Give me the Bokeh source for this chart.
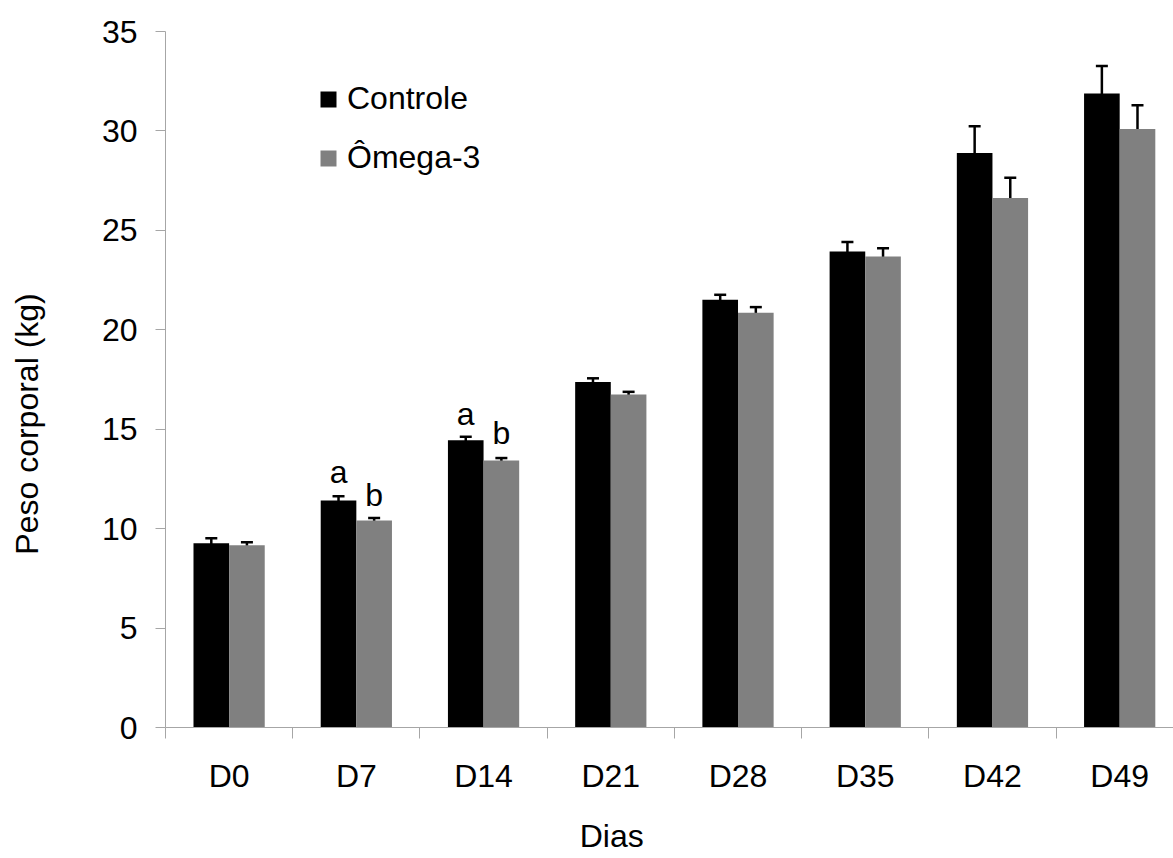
import numpy as np
from bokeh.plotting import figure
from bokeh.models import (ColumnDataSource, Range1d, FixedTicker, Whisker, TeeHead,
                          Legend, LegendItem)
from bokeh.core.properties import value
from bokeh.embed import file_html
from bokeh.resources import INLINE

# ---- data ----
categories = ["D0", "D7", "D14", "D21", "D28", "D35", "D42", "D49"]
controle = [9.27, 11.42, 14.44, 17.37, 21.51, 23.94, 28.89, 31.88]
controle_err = [0.25, 0.21, 0.18, 0.19, 0.25, 0.47, 1.34, 1.38]
omega3 = [9.17, 10.41, 13.43, 16.74, 20.86, 23.68, 26.63, 30.10]
omega3_err = [0.15, 0.13, 0.12, 0.14, 0.28, 0.42, 1.01, 1.19]
y_ticks = [0, 5, 10, 15, 20, 25, 30, 35]
sig_cats = ["D7", "D7", "D14", "D14"]
sig_series = ["Controle", "Ômega-3", "Controle", "Ômega-3"]
sig_y = [12.83, 11.67, 15.74, 14.79]
sig_text = ["a", "b", "a", "b"]
y_title = "Peso corporal (kg)"
x_title = "Dias"

FONT = "Liberation Sans"
FS = "32px"
AXIS_GRAY = "#a6a6a6"
BAR_W = 0.28
OFF = 0.14
NBSP = "\u00a0"

idx = np.arange(len(categories), dtype=float)
src_c = ColumnDataSource(dict(x=idx - OFF, top=controle,
                              upper=np.array(controle) + np.array(controle_err),
                              lower=np.array(controle) - np.array(controle_err)))
src_o = ColumnDataSource(dict(x=idx + OFF, top=omega3,
                              upper=np.array(omega3) + np.array(omega3_err),
                              lower=np.array(omega3) - np.array(omega3_err)))

p = figure(width=1173, height=858, output_backend="svg", toolbar_location=None,
           x_range=Range1d(-0.5, 7.423), y_range=Range1d(0, 35),
           min_border_left=165, min_border_right=0, min_border_top=31, min_border_bottom=131)
p.outline_line_color = None
p.xgrid.visible = False
p.ygrid.visible = False
p.background_fill_color = "white"
p.border_fill_color = "white"

rc = p.vbar(x="x", top="top", width=BAR_W, source=src_c, fill_color="black", line_color=None)
ro = p.vbar(x="x", top="top", width=BAR_W, source=src_o, fill_color="#808080", line_color=None)

for s in (src_c, src_o):
    w = Whisker(base="x", upper="upper", lower="lower", source=s, dimension="height",
                line_color="black", line_width=2.5,
                upper_head=TeeHead(size=12, line_color="black", line_width=2.5),
                lower_head=TeeHead(size=12, line_color="black", line_width=2.5))
    p.add_layout(w)

# significance letters
sig_x = [categories.index(c) + (-OFF if s == "Controle" else OFF) for c, s in zip(sig_cats, sig_series)]
p.text(x=sig_x, y=sig_y, text=sig_text, text_font=value(FONT), text_font_size=FS,
       text_align="center", text_baseline="alphabetic", text_color="black")

# y axis
ya = p.yaxis[0]
ya.ticker = FixedTicker(ticks=y_ticks)
ya.axis_line_color = AXIS_GRAY
ya.major_tick_line_color = AXIS_GRAY
ya.major_tick_out = 10
ya.major_tick_in = 0
ya.minor_tick_line_color = None
ya.major_label_text_font = FONT
ya.major_label_text_font_size = FS
ya.major_label_text_color = "black"
ya.major_label_standoff = 18
ya.axis_label = y_title + NBSP * 10
ya.axis_label_text_font = FONT
ya.axis_label_text_font_size = FS
ya.axis_label_text_font_style = "normal"
ya.axis_label_text_color = "black"
ya.axis_label_standoff = 54

# x axis: labels at centres, ticks at boundaries (minor)
xa = p.xaxis[0]
xa.ticker = FixedTicker(ticks=list(idx), minor_ticks=list(np.arange(len(categories) + 1) - 0.5))
xa.major_label_overrides = {i: c for i, c in enumerate(categories)}
xa.axis_line_color = AXIS_GRAY
xa.major_tick_line_color = None
xa.major_tick_out = 0
xa.major_tick_in = 0
xa.minor_tick_line_color = AXIS_GRAY
xa.minor_tick_out = 11
xa.minor_tick_in = 0
xa.major_label_text_font = FONT
xa.major_label_text_font_size = FS
xa.major_label_text_color = "black"
xa.major_label_standoff = 19
xa.axis_label = x_title + NBSP * 13
xa.axis_label_text_font = FONT
xa.axis_label_text_font_size = FS
xa.axis_label_text_font_style = "normal"
xa.axis_label_text_color = "black"
xa.axis_label_standoff = 21

legend = Legend(items=[LegendItem(label="Controle", renderers=[rc]),
                       LegendItem(label="Ômega-3", renderers=[ro])],
                location=(153, 551), glyph_width=20, glyph_height=20, label_height=36,
                spacing=22, padding=0, margin=0, label_standoff=9,
                label_text_font=FONT, label_text_font_size=FS, label_text_color="black",
                border_line_alpha=0, background_fill_alpha=0)
p.add_layout(legend)

open("out.html", "w").write(file_html(p, INLINE))
